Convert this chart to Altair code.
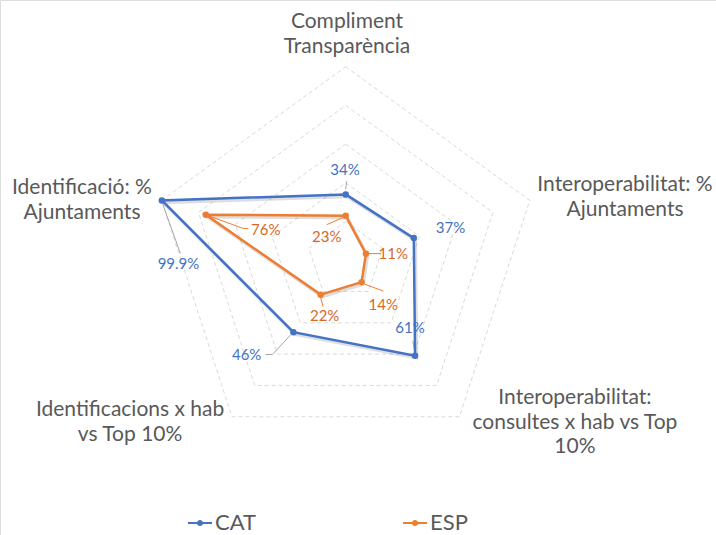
import altair as alt
import pandas as pd

# ---- data ----
categories = [
    "Compliment\nTransparència",
    "Interoperabilitat: %\nAjuntaments",
    "Interoperabilitat:\nconsultes x hab vs Top\n10%",
    "Identificacions x hab\nvs Top 10%",
    "Identificació: %\nAjuntaments",
]
series_names = ["CAT", "ESP"]
cat_values = [34, 37, 61, 46, 99.9]
esp_values = [23, 11, 14, 22, 76]
grid_levels = [20, 40, 60, 80, 100]

# ---- styling / layout ----
PX = 193.5                      # pixels per 100 %
CX, CY = 345.7, 260.2           # centre of the radar in the view
W, H = 716, 535
FONT = "Lato"
line_colors = {"CAT": "#4472C4", "ESP": "#ED7D31"}
text_colors = {"CAT": "#4472C4", "ESP": "#D9691F"}
leader_colors = {"CAT": "#A6A6A6", "ESP": "#ED7D31"}

# pixel offsets of the category captions (first line) from the outer vertices
cat_label_offsets = [(1.3, -44.7), (95.3, -15.4), (115.5, -18.7), (-101.9, -6.7), (-79.7, -12.4)]
# pixel offsets of the value labels from their points
value_label_offsets = {
    "CAT": [(-0.7, -24.7), (36.7, -10), (-5, -27.7), (-46.7, 22.3), (16.6, 63.3)],
    "ESP": [(-19, 21), (27.3, 0), (21.7, 23), (4, 21), (60, 15)],
}
# leader lines (pixel offsets from the point)
leader_offsets = {
    "CAT": [[(0, -5), (1, -13)], [], [(-0.5, -5), (-2.3, -15)],
            [(-3, 3), (-21, 22.3), (-28, 22.3)], [(1, 4), (18.5, 53)]],
    "ESP": [[(-3, 2), (-19, 9)], [(3, 0), (15, 0)], [(3, 2), (21.7, 9)],
            [(0, 3), (2.4, 12)], [(4, 1.5), (36, 13.3), (42.5, 14)]],
}

values = {"CAT": cat_values, "ESP": esp_values}
n_axes = len(categories)

# ---- tables built from the arrays ----
points = pd.DataFrame([
    {"series": s, "axis": i, "value": v, "label": f"{v:g}%"}
    for s in series_names for i, v in enumerate(values[s])
])
point_labels = pd.DataFrame([
    {"series": s, "axis": i, "value": v, "label": f"{v:g}%",
     "ldx": value_label_offsets[s][i][0], "ldy": value_label_offsets[s][i][1]}
    for s in series_names for i, v in enumerate(values[s])
])
grid = pd.DataFrame([{"level": lv, "axis": i, "value": lv}
                     for lv in grid_levels for i in range(n_axes)])
cats = pd.DataFrame([{"axis": i, "text": c, "value": 100,
                      "ldx": cat_label_offsets[i][0], "ldy": cat_label_offsets[i][1]}
                     for i, c in enumerate(categories)])
leaders = pd.DataFrame([
    {"series": s, "axis": i, "value": values[s][i], "id": f"{s}{i}", "k": k,
     "ldx": ox, "ldy": oy}
    for s in series_names for i in range(n_axes)
    for k, (ox, oy) in enumerate(leader_offsets[s][i])
])

ang = f"2*PI*datum.axis/{n_axes}"
pos_x = f"datum.value/100*sin({ang})"
pos_y = f"datum.value/100*cos({ang})"

xs = alt.Scale(domain=[-CX / PX, (W - CX) / PX], nice=False, zero=False)
ys = alt.Scale(domain=[-(H - CY) / PX, CY / PX], nice=False, zero=False)
X = alt.X("x:Q", scale=xs, axis=None)
Y = alt.Y("y:Q", scale=ys, axis=None)


def placed(df, shift_px=(0.0, 0.0)):
    """Polar -> cartesian, plus an optional pixel shift (per row or fixed)."""
    base = alt.Chart(df)
    if "ldx" in df.columns:
        return base.transform_calculate(
            x=f"{pos_x} + datum.ldx/{PX}", y=f"{pos_y} - datum.ldy/{PX}")
    return base.transform_calculate(
        x=f"{pos_x} + {shift_px[0]}/{PX}", y=f"{pos_y} - {shift_px[1]}/{PX}")


grid_layer = placed(grid).mark_line(
    interpolate="linear-closed", stroke="#D9D9D9", strokeWidth=1, strokeDash=[4, 3]
).encode(x=X, y=Y, detail="level:N", order="axis:Q")

shadow_layer = placed(points, (1.5, 2)).mark_line(
    interpolate="linear-closed", stroke="black", strokeOpacity=0.13, strokeWidth=3.5
).encode(x=X, y=Y, detail="series:N", order="axis:Q")

stroke_scale = alt.Scale(domain=series_names, range=[line_colors[s] for s in series_names])

line_layer = placed(points).mark_line(interpolate="linear-closed", strokeWidth=2.5).encode(
    x=X, y=Y, order="axis:Q",
    stroke=alt.Stroke("series:N", scale=stroke_scale, legend=None),
)

legend_symbol = ("M-1,-0.08H1V0.08H-1Z"
                 "M-0.26,0A0.26,0.26 0 1,1 0.26,0A0.26,0.26 0 1,1 -0.26,0Z")

point_layer = placed(points).mark_circle(size=42, opacity=1).encode(
    x=X, y=Y,
    color=alt.Color(
        "series:N",
        scale=alt.Scale(domain=series_names, range=[line_colors[s] for s in series_names]),
        legend=alt.Legend(
            title=None, orient="none", direction="horizontal",
            legendX=188, legendY=511, symbolType=legend_symbol, symbolSize=576,
            symbolStrokeWidth=0, labelFont=FONT, labelFontSize=22,
            labelColor="#595959", labelOffset=3, columnPadding=146,
            gridAlign="all", padding=0,
        ),
    ),
)

leader_layer = placed(leaders).mark_line(strokeWidth=1).encode(
    x=X, y=Y, detail="id:N", order="k:Q",
    stroke=alt.Stroke("series:N",
                      scale=alt.Scale(domain=series_names,
                                      range=[leader_colors[s] for s in series_names]),
                      legend=None),
)

value_text = placed(point_labels).mark_text(
    font=FONT, fontSize=15, align="center", baseline="middle"
).encode(
    x=X, y=Y, text="label:N",
    fill=alt.Fill("series:N",
                  scale=alt.Scale(domain=series_names,
                                  range=[text_colors[s] for s in series_names]),
                  legend=None),
)

cat_text = placed(cats).mark_text(
    font=FONT, fontSize=21, align="center", baseline="middle",
    lineBreak="\n", lineHeight=24.5, color="#595959"
).encode(x=X, y=Y, text="text:N")

chart = alt.layer(
    grid_layer, shadow_layer, leader_layer, line_layer, point_layer, value_text, cat_text
).resolve_scale(stroke="independent").properties(
    width=W, height=H, padding=0, autosize=alt.AutoSizeParams(type="none")
).configure_view(stroke=None).configure(background="white")

chart.save("out.html", embed_options={"renderer": "svg", "actions": False})
